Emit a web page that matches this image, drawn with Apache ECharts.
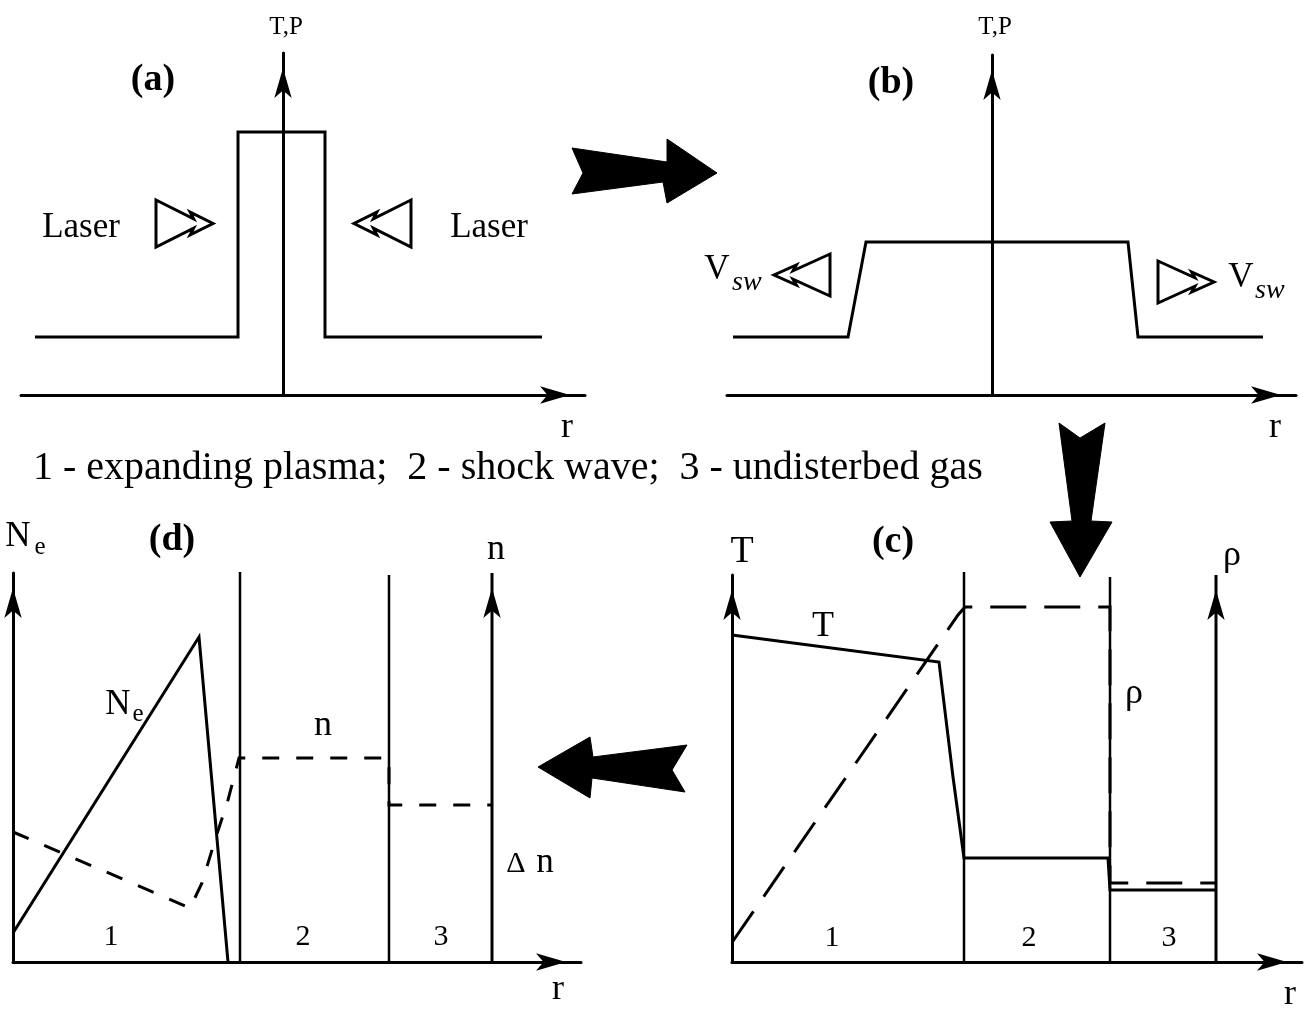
<!DOCTYPE html>
<html><head><meta charset="utf-8">
<script src="https://cdn.jsdelivr.net/npm/echarts@6/dist/echarts.min.js"></script>
<style>html,body{margin:0;padding:0;background:#fff}#c{width:1307px;height:1021px}</style>
</head><body><div id="c"></div>
<script>
// ---------- data (arbitrary units) ----------
// Panel (a): initial hot spot, T,P vs r
const aR  = [-2.48, -0.45, -0.45, 0.42, 0.42, 2.59];
const aTP = [0.58, 0.58, 2.63, 2.63, 0.58, 0.58];
// Panel (b): expanding shock, T,P vs r
const bR  = [-2.59, -1.44, -1.26, 1.36, 1.46, 2.71];
const bTP = [0.58, 0.58, 1.53, 1.53, 0.58, 0.58];
// Panel (c): temperature T (solid) and density rho (dashed)
const cRT   = [0, 2.07, 2.21, 2.32, 3.76, 3.78, 4.84];
const cT    = [3.27, 3.00, 1.85, 1.04, 1.04, 0.72, 0.72];
const cRRho = [0.01, 2.26, 2.33, 3.78, 3.78, 4.84];
const cRho  = [0.21, 3.47, 3.55, 3.55, 0.79, 0.79];
const cBoundR   = [2.32, 3.78];
const cBoundTop = [3.90, 3.85];
const cAxis2R = 4.84;
// Panel (d): electron density Ne (solid) and refractive index n (dashed)
const dRNe = [0, 1.86, 2.15];
const dNe  = [0.29, 3.25, 0];
const dRN  = [0, 1.77, 1.89, 2.02, 2.15, 2.26, 3.76, 3.76, 4.79];
const dN   = [1.30, 0.54, 0.79, 1.22, 1.62, 2.04, 2.04, 1.57, 1.57];
const dBoundR   = [2.27, 3.76];
const dBoundTop = [3.90, 3.87];
const dAxis2R = 4.79;
// region labels
const regionLabels = ['1', '2', '3'];
const legendText = '1 - expanding plasma;  2 - shock wave;  3 - undisterbed gas';

// ---------- helpers ----------
const pair = (xs, ys) => xs.map((x, i) => [x, ys[i]]);
const SERIF = '"Liberation Serif", "DejaVu Serif", serif';
const BLACK = '#000';
const ARW = [13, 30];

function axisLine(onZero) {
  return { show: true, onZero: onZero, symbol: ['none', 'arrow'], symbolSize: ARW,
           symbolOffset: [0, -15], lineStyle: { color: BLACK, width: 3 } };
}
function xAx(g, min, max) {
  return { gridIndex: g, type: 'value', min: min, max: max, axisLine: axisLine(false),
           axisTick: { show: false }, axisLabel: { show: false }, splitLine: { show: false } };
}
function yAx(g, min, max, onZero) {
  return { gridIndex: g, type: 'value', min: min, max: max, axisLine: axisLine(onZero),
           axisTick: { show: false }, axisLabel: { show: false }, splitLine: { show: false } };
}
function line(g, data, opts) {
  const o = opts || {};
  return { type: 'line', xAxisIndex: g, yAxisIndex: g, data: data, symbol: 'none', showSymbol: false,
           clip: false, silent: true, animation: false, z: o.z || 3,
           lineStyle: { color: BLACK, width: o.width || 3, type: o.type || 'solid', join: 'miter', cap: 'butt' } };
}
function arrowAxis(g, x, top) {
  return { type: 'line', xAxisIndex: g, yAxisIndex: g, symbol: 'none', showSymbol: true, clip: false,
           silent: true, animation: false, z: 4,
           itemStyle: { color: BLACK },
           lineStyle: { color: BLACK, width: 3 },
           data: [[x, 0], { value: [x, top], symbol: 'arrow', symbolSize: ARW, symbolOffset: [0, 15] }] };
}
function txt(x, y, s, size, extra) {
  return Object.assign({ type: 'text', x: x, y: y, z: 100,
    style: { text: s, font: size + 'px ' + SERIF, fill: BLACK, align: 'center', verticalAlign: 'middle',
             textAlign: 'center', textVerticalAlign: 'middle' } }, extra || {});
}
function txtF(x, y, s, font, align) {
  return { type: 'text', x: x, y: y, z: 100,
    style: { text: s, font: font, fill: BLACK, align: align || 'center', verticalAlign: 'middle',
             textAlign: align || 'center', textVerticalAlign: 'middle' } };
}
function hollow(x0, y0, w, h, dir) {
  const base = [[0, 0], [0.66, 0.40], [0.60, 0.26], [1, 0.5], [0.60, 0.74], [0.66, 0.60], [0, 1]];
  const pts = base.map(p => [dir > 0 ? x0 + p[0] * w : x0 + w - p[0] * w, y0 + p[1] * h]);
  return { type: 'polygon', z: 50, shape: { points: pts },
           style: { fill: '#fff', stroke: BLACK, lineWidth: 3, lineJoin: 'miter' } };
}
function blob(points) {
  return { type: 'polygon', z: 50, shape: { points: points }, style: { fill: BLACK, stroke: BLACK, lineWidth: 1 } };
}

// ---------- chart ----------
const chart = echarts.init(document.getElementById('c'), null, { renderer: 'canvas' });

const series = [
  line(0, pair(aR, aTP)),
  line(1, pair(bR, bTP)),
  // (c)
  line(2, pair(cRT, cT)),
  line(2, pair(cRRho, cRho), { type: [36, 18] }),
  line(2, [[cBoundR[0], 0], [cBoundR[0], cBoundTop[0]]], { width: 2.5 }),
  line(2, [[cBoundR[1], 0], [cBoundR[1], cBoundTop[1]]], { width: 2.5 }),
  arrowAxis(2, cAxis2R, 3.87),
  // (d)
  line(3, pair(dRNe, dNe)),
  line(3, pair(dRN, dN), { type: [17, 17] }),
  line(3, [[dBoundR[0], 0], [dBoundR[0], dBoundTop[0]]], { width: 2.5 }),
  line(3, [[dBoundR[1], 0], [dBoundR[1], dBoundTop[1]]], { width: 2.5 }),
  arrowAxis(3, dAxis2R, 3.89)
];

const graphics = [
  // panel tags
  txtF(153, 80, '(a)', 'bold 38px ' + SERIF),
  txtF(891, 83, '(b)', 'bold 38px ' + SERIF),
  txtF(893, 542, '(c)', 'bold 38px ' + SERIF),
  txtF(172, 540, '(d)', 'bold 38px ' + SERIF),
  // axis titles
  txt(286, 27, 'T,P', 25),
  txt(995, 27, 'T,P', 25),
  txt(567, 428, 'r', 36), txt(1275, 428, 'r', 36),
  txt(558, 990, 'r', 36), txt(1290, 995, 'r', 36),
  // lasers
  txt(81, 228, 'Laser', 35), txt(489, 228, 'Laser', 35),
  hollow(156, 200, 57, 47, 1), hollow(354, 200, 57, 47, -1),
  // V_sw
  txt(717, 270, 'V', 35), txtF(732, 283, 'sw', 'italic 28px ' + SERIF, 'left'),
  txt(1241, 278, 'V', 35), txtF(1255, 291, 'sw', 'italic 28px ' + SERIF, 'left'),
  hollow(774, 254, 56, 42, -1), hollow(1158, 261, 56, 42, 1),
  // legend line
  txtF(33, 468, legendText, '40px ' + SERIF, 'left'),
  // (d) labels
  txt(18, 537, 'N', 35), txt(40, 547, 'e', 25),
  txt(118, 705, 'N', 35), txt(138, 714, 'e', 25),
  txt(496, 550, 'n', 36), txt(323, 726, 'n', 36),
  txt(516, 864, '\u0394', 30), txt(545, 863, 'n', 35),
  txt(111, 937, regionLabels[0], 30), txt(303, 937, regionLabels[1], 30), txt(441, 937, regionLabels[2], 30),
  // (c) labels
  txt(742, 552, 'T', 38), txt(1232, 556, '\u03c1', 36),
  txt(823, 627, 'T', 36), txt(1134, 694, '\u03c1', 36),
  txt(832, 938, regionLabels[0], 30), txt(1029, 938, regionLabels[1], 30), txt(1169, 938, regionLabels[2], 30),
  // process arrows
  blob([[572,148],[667,162],[667,139],[717,173],[667,203],[663,182],[572,194],[583,173]]),
  blob([[1059,423],[1080,438],[1105,423],[1091,521],[1112,522],[1080,577],[1050,522],[1072,521]]),
  blob([[538,767],[590,737],[593,757],[687,745],[672,770],[685,792],[592,778],[590,798]])
];

chart.setOption({
  backgroundColor: '#fff',
  animation: false,
  grid: [
    { left: 21,  top: 53,  width: 564, height: 342 },
    { left: 727, top: 55,  width: 569, height: 340 },
    { left: 732, top: 575, width: 570, height: 387 },
    { left: 13,  top: 573, width: 568, height: 389 }
  ],
  xAxis: [ xAx(0, -2.62, 3.02), xAx(1, -2.65, 3.04), xAx(2, 0, 5.70), xAx(3, 0, 5.68) ],
  yAxis: [ yAx(0, 0, 3.42, true), yAx(1, 0, 3.40, true), yAx(2, 0, 3.87, false), yAx(3, 0, 3.89, false) ],
  series: series,
  graphic: graphics
});
</script>
</body></html>
